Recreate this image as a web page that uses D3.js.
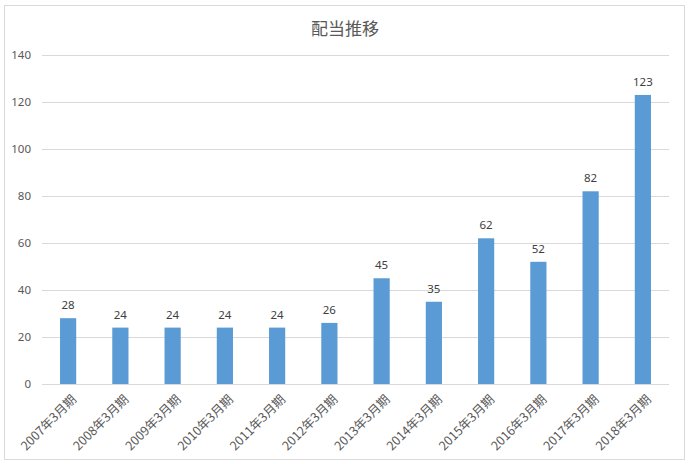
<!DOCTYPE html>
<html>
<head>
<meta charset="utf-8">
<script src="https://cdn.jsdelivr.net/npm/d3@7"></script>
<style>
body { margin: 0; background: #fff; }
text { font-family: "Noto Sans CJK JP", "Noto Sans", sans-serif; }
</style>
</head>
<body>
<svg id="chart"></svg>
<script>
var categories = ["2007年3月期","2008年3月期","2009年3月期","2010年3月期","2011年3月期","2012年3月期",
                  "2013年3月期","2014年3月期","2015年3月期","2016年3月期","2017年3月期","2018年3月期"];
var dividends = [28, 24, 24, 24, 24, 26, 45, 35, 62, 52, 82, 123];
var yTicks = [0, 20, 40, 60, 80, 100, 120, 140];
var title = "配当推移";

var screen = {width: 689, height: 464};
var margins = {top: 55, bottom: 80, left: 42, right: 20};
var graph = {
    width: screen.width - margins.left - margins.right,
    height: screen.height - margins.top - margins.bottom
};

var svg = d3.select("#chart")
    .attr("width", screen.width)
    .attr("height", screen.height);

svg.append("rect")
    .attr("x", 4.5).attr("y", 5.5)
    .attr("width", 680).attr("height", 454)
    .attr("fill", "#fff")
    .attr("stroke", "#d9d9d9");

svg.append("text")
    .text(title)
    .attr("x", 345)
    .attr("y", 35)
    .attr("text-anchor", "middle")
    .attr("font-size", 17)
    .attr("fill", "#595959");

var xScale = d3.scaleBand()
    .domain(categories)
    .range([0, graph.width])
    .paddingInner(0.69)
    .paddingOuter(0.345);

var yScale = d3.scaleLinear()
    .domain([0, 140])
    .range([graph.height, 0]);

var g = svg.append("g")
    .attr("transform", "translate(" + margins.left + "," + margins.top + ")");

// gridlines
g.append("g")
    .selectAll("line")
    .data(yTicks)
    .enter()
    .append("line")
    .attr("x1", 0)
    .attr("x2", graph.width)
    .attr("y1", function(d) { return Math.round(yScale(d)) + 0.5; })
    .attr("y2", function(d) { return Math.round(yScale(d)) + 0.5; })
    .attr("stroke", "#d9d9d9");

// y axis labels
var yAxis = d3.axisLeft(yScale).tickValues(yTicks).tickSize(0).tickPadding(11);
var ya = g.append("g").call(yAxis);
ya.select(".domain").remove();
ya.selectAll("text").attr("font-size", 11.5).attr("fill", "#595959")
    .style("font-family", "'Noto Sans', sans-serif");

// bars
g.append("g")
    .selectAll("rect")
    .data(dividends)
    .enter()
    .append("rect")
    .attr("x", function(d, i) { return xScale(categories[i]); })
    .attr("width", xScale.bandwidth())
    .attr("y", function(d) { return yScale(d); })
    .attr("height", function(d) { return graph.height - yScale(d); })
    .attr("fill", "#5b9bd5");

// value labels
g.append("g")
    .selectAll("text")
    .data(dividends)
    .enter()
    .append("text")
    .text(function(d) { return d; })
    .attr("x", function(d, i) { return xScale(categories[i]) + xScale.bandwidth() / 2; })
    .attr("y", function(d) { return yScale(d) - 9; })
    .attr("text-anchor", "middle")
    .attr("font-size", 11.5)
    .attr("fill", "#404040")
    .style("font-family", "'Noto Sans', sans-serif");

// x axis
var xAxis = d3.axisBottom(xScale).tickSize(0).tickPadding(0);
var xa = g.append("g")
    .attr("transform", "translate(0," + graph.height + ")")
    .call(xAxis);
xa.select(".domain").remove();
xa.selectAll("text")
    .attr("font-size", 12.5)
    .attr("fill", "#595959")
    .attr("text-anchor", "end")
    .attr("dy", "0.35em")
    .attr("transform", "translate(6,13) rotate(-45)");
</script>
</body>
</html>
